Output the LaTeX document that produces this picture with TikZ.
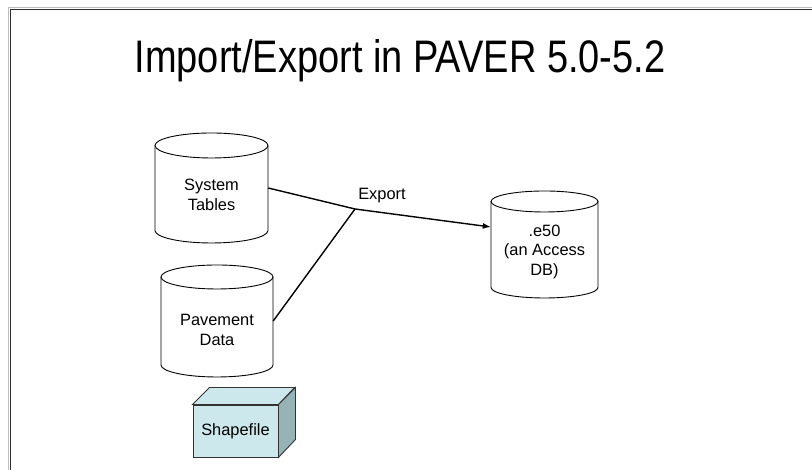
\documentclass[tikz,border=0pt]{standalone}
\usepackage{fontspec}
\setmainfont{Liberation Sans}
\usetikzlibrary{arrows.meta,calc}
\definecolor{boxfront}{RGB}{204,232,236}
\definecolor{boxside}{RGB}{150,180,182}
\definecolor{framedark}{RGB}{45,45,45}
\newcommand\dbcyl[8]{%
  \node[minimum width=#4pt, minimum height=#5pt, inner sep=0pt] (#1) at (#2,#3) {};
  \draw[cylline] ({#2-#4/2},{#3+#5/2-#6}) -- ({#2-#4/2},{#3-#5/2+#6})
     arc[start angle=180, end angle=360, x radius={#4/2*1pt}, y radius={#6*1pt}]
     -- ({#2+#4/2},{#3+#5/2-#6});
  \draw[cylline] (#2,{#3+#5/2-#6}) ellipse [x radius={#4/2*1pt}, y radius={#6*1pt}];
  \node[lbl] (#1-label) at (#2,{#3+#7}) {#8};
}
\begin{document}
\begin{tikzpicture}[x=1pt,y=1pt,
  lbl/.style={font=\fontsize{16.4}{19.5}\selectfont, align=center, inner sep=0pt},
  cylline/.style={draw=black, line width=0.9pt},
  conn/.style={draw=black, line width=1.4pt},
  boxline/.style={draw=black!80, line width=0.9pt}]
\useasboundingbox (0,0) rectangle (812,470);
% frame
\draw[black!25, line width=1pt] (812,462.5) -- (8,462.5) -- (8,0);
\draw[framedark, line width=1.5pt] (812,460.5) -- (10.5,460.5) -- (10.5,0);
% title
\node[font=\fontsize{38}{42}\selectfont, anchor=base, inner sep=0pt] (title) at (400,397) {\scalebox{1}[1.2]{Import/Export in PAVER 5.0-5.2}};
% cylinders
\dbcyl{sys}{211.5}{282}{113}{110}{12.5}{-7}{System\\Tables}
\dbcyl{pav}{217}{149}{112}{112}{12}{-9}{Pavement\\Data}
\dbcyl{e50}{544.5}{225.5}{107}{107}{10.5}{-7}{.e50\\(an Access\\DB)}
% connectors
\coordinate (J) at (355,261);
\draw[conn] (sys.east) -- (J);
\draw[conn] (pav.east) -- (J);
\draw[conn, -{Latex[length=8pt,width=6pt]}] (J) -- ([yshift=17.5pt]e50.west);
\node[lbl] (export) at (382,274) {Export};
% shapefile box
\node[boxline, fill=boxfront, minimum width=85pt, minimum height=52pt, inner sep=0pt, font=\fontsize{16.4}{19.5}\selectfont] (shp) at (235.5,39) {Shapefile};
\draw[boxline, fill=boxfront] (shp.north west) -- ++(17,17) -- ++(85,0) -- (shp.north east) -- cycle;
\draw[boxline, fill=boxside] (shp.north east) -- ++(17,17) -- ++(0,-52) -- (shp.south east) -- cycle;
\end{tikzpicture}
\end{document}
